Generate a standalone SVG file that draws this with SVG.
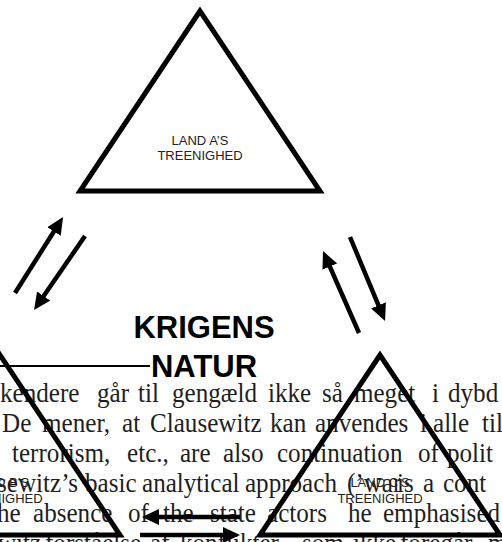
<svg xmlns="http://www.w3.org/2000/svg" width="502" height="542" viewBox="0 0 502 542">
<style>
.body{font-family:"Liberation Serif","Times New Roman",serif;font-size:27px;fill:#1e1e1e}
.tri{fill:none;stroke:#000;stroke-width:5;stroke-linejoin:miter;stroke-miterlimit:10}
.lbl{font-family:"Liberation Sans",Arial,sans-serif;font-size:13px;fill:#222;text-anchor:middle}
.title{font-family:"Liberation Sans",Arial,sans-serif;font-size:31px;font-weight:bold;fill:#000;text-anchor:middle}
.arr{stroke:#000;stroke-width:4.5;fill:none;marker-end:url(#ah)}
</style>
<defs>
<marker id="ah" markerUnits="userSpaceOnUse" markerWidth="17" markerHeight="16" refX="7" refY="8" orient="auto">
<path d="M0,0 L17,8 L0,16 z" fill="#000"/>
</marker>
</defs>
<g id="body-text">
<text class="body" y="402" transform="scale(0.93 1)"><tspan x="0">kendere</tspan><tspan x="104.3">går</tspan><tspan x="148.4">til</tspan><tspan x="184.9">gengæld</tspan><tspan x="288.2">ikke</tspan><tspan x="346.2">så</tspan><tspan x="380.6">meget</tspan><tspan x="464.5">i</tspan><tspan x="481.7">dybd</tspan></text>
<text class="body" y="432" transform="scale(0.93 1)"><tspan x="2.2">De</tspan><tspan x="45.2">mener,</tspan><tspan x="131.2">at</tspan><tspan x="161.3">Clausewitz</tspan><tspan x="290.3">kan</tspan><tspan x="338.7">anvendes</tspan><tspan x="451.6">i</tspan><tspan x="465.6">alle</tspan><tspan x="518.3">tilf</tspan></text>
<text class="body" y="462" transform="scale(0.93 1)"><tspan x="12.9">terrorism,</tspan><tspan x="136.6">etc.,</tspan><tspan x="193.5">are</tspan><tspan x="239.8">also</tspan><tspan x="297.8">continuation</tspan><tspan x="449.5">of</tspan><tspan x="480.6">polit</tspan></text>
<text class="body" y="492" transform="scale(0.93 1)"><tspan x="-3.2">sewitz’s</tspan><tspan x="91.4">basic</tspan><tspan x="152.7">analytical</tspan><tspan x="263.4">approach</tspan><tspan x="373.1">(’war</tspan><tspan x="426.9">is</tspan><tspan x="454.8">a</tspan><tspan x="476.3">cont</tspan></text>
<text class="body" y="522" transform="scale(0.93 1)"><tspan x="-10.8">the</tspan><tspan x="35.5">absence</tspan><tspan x="137.6">of</tspan><tspan x="175.3">the</tspan><tspan x="225.8">state</tspan><tspan x="287.1">actors</tspan><tspan x="374.2">he</tspan><tspan x="411.8">emphasised</tspan></text>
<text class="body" y="552" transform="scale(0.93 1)"><tspan x="-2.2">witz</tspan><tspan x="48.4">forståelse</tspan><tspan x="161.3">af</tspan><tspan x="193.5">konflikter,</tspan><tspan x="324.7">som</tspan><tspan x="379.6">ikke</tspan><tspan x="430.1">foregår</tspan><tspan x="524.7">m</tspan></text>
</g>
<g id="land-a">
<polygon class="tri" points="200,11 80,191 320,191"/>
<text class="lbl" x="200" y="145">LAND A’S</text>
<text class="lbl" x="200" y="160">TREENIGHED</text>
</g>
<g id="land-b">
<polygon class="tri" points="0,355 -120,535 120,535"/>
<text class="lbl" x="0" y="487">LAND B’S</text>
<text class="lbl" x="0" y="503">TREENIGHED</text>
</g>
<g id="land-c">
<polygon class="tri" points="380,355 260,535 500,535"/>
<text class="lbl" x="380" y="487">LAND C’S</text>
<text class="lbl" x="380" y="503">TREENIGHED</text>
</g>
<g id="krigens-natur">
<text class="title" x="204" y="338">KRIGENS</text>
<text class="title" x="204" y="377">NATUR</text>
</g>
<g id="connectors">
<line x1="0" y1="366" x2="150" y2="366" stroke="#000" stroke-width="2"/>
<line class="arr" x1="15" y1="293" x2="57.7" y2="225.5"/>
<line class="arr" x1="85" y1="236" x2="39.7" y2="301.8"/>
<line class="arr" x1="359" y1="333" x2="327" y2="260.2"/>
<line class="arr" x1="350" y1="237" x2="381.2" y2="311.8"/>
<line class="arr" x1="240" y1="517" x2="152" y2="517"/>
<line class="arr" x1="140" y1="535" x2="230" y2="535"/>
</g>
</svg>
